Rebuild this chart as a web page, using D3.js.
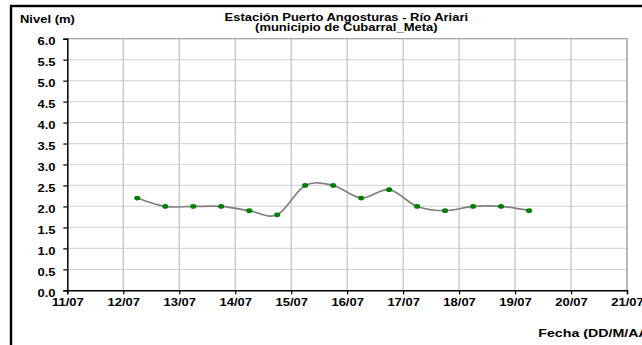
<!DOCTYPE html>
<html>
<head>
<meta charset="utf-8">
<script src="https://cdn.jsdelivr.net/npm/d3@7"></script>
<style>
  html, body { margin: 0; padding: 0; background: #fff; overflow: hidden; }
  svg { display: block; font-family: "Liberation Sans", Arial, sans-serif; }
</style>
</head>
<body>
<svg id="chart" width="642" height="345"></svg>
<script>
// Observation times (every 12 h) and river level readings in metres
const times = [
  "2011-07-12T06:00", "2011-07-12T18:00", "2011-07-13T06:00", "2011-07-13T18:00",
  "2011-07-14T06:00", "2011-07-14T18:00", "2011-07-15T06:00", "2011-07-15T18:00",
  "2011-07-16T06:00", "2011-07-16T18:00", "2011-07-17T06:00", "2011-07-17T18:00",
  "2011-07-18T06:00", "2011-07-18T18:00", "2011-07-19T06:00"
];
const levels = [2.2, 2.0, 2.0, 2.0, 1.9, 1.8, 2.5, 2.5, 2.2, 2.4, 2.0, 1.9, 2.0, 2.0, 1.9];

const xTicks = ["2011-07-11", "2011-07-12", "2011-07-13", "2011-07-14", "2011-07-15",
                "2011-07-16", "2011-07-17", "2011-07-18", "2011-07-19", "2011-07-20", "2011-07-21"];
const yTicks = [0, 0.5, 1, 1.5, 2, 2.5, 3, 3.5, 4, 4.5, 5, 5.5, 6];

const titleLines = ["Estación Puerto Angosturas - Río Ariari", "(municipio de Cubarral_Meta)"];
const yTitle = "Nivel (m)";
const xTitle = "Fecha (DD/M/AA)";

const parse = d3.timeParse("%Y-%m-%dT%H:%M");
const parseDay = d3.timeParse("%Y-%m-%d");
const data = times.map((t, i) => ({ t: parse(t), v: levels[i] }));
const tickDates = xTicks.map(parseDay);

// Text in this chart is set in a wide bold face: stretch glyphs horizontally
const SX = 1.3;
const FS = 10;

const svg = d3.select("#chart");
const plot = { left: 67.3, right: 627, top: 38.7, bottom: 290.3 };

// Outer chart frame
svg.append("rect")
  .attr("x", 11).attr("y", 6).attr("width", 700).attr("height", 400)
  .attr("fill", "none").attr("stroke", "#000").attr("stroke-width", 2.4);

const x = d3.scaleTime()
  .domain([tickDates[0], tickDates[tickDates.length - 1]])
  .range([plot.left, plot.right]);
const y = d3.scaleLinear().domain([0, 6]).range([plot.bottom, plot.top]);

// Horizontal gridlines
svg.append("g").selectAll("line").data(yTicks.filter(d => d > 0)).join("line")
  .attr("x1", plot.left).attr("x2", plot.right)
  .attr("y1", d => y(d)).attr("y2", d => y(d))
  .attr("stroke", "#d9d9d9").attr("stroke-width", 1.2);

// Vertical gridlines
svg.append("g").selectAll("line").data(tickDates.slice(1)).join("line")
  .attr("x1", d => x(d)).attr("x2", d => x(d))
  .attr("y1", plot.top).attr("y2", plot.bottom)
  .attr("stroke", "#c0c0c0").attr("stroke-width", 1.2);

// Plot area border (top/right)
svg.append("path")
  .attr("d", `M${plot.left},${plot.top}H${plot.right}V${plot.bottom}`)
  .attr("fill", "none").attr("stroke", "#a6a6a6").attr("stroke-width", 1.2);

// Y axis
const yAxis = svg.append("g")
  .attr("transform", `translate(${plot.left},0)`)
  .call(d3.axisLeft(y).tickValues(yTicks).tickFormat(d3.format(".1f")).tickSize(4).tickPadding(5));
yAxis.select(".domain").attr("stroke", "#000").attr("stroke-width", 1.5);
yAxis.selectAll(".tick line").attr("stroke", "#000").attr("stroke-width", 1.2);
yAxis.selectAll("text")
  .attr("font-size", FS).attr("font-weight", "bold").attr("fill", "#000")
  .attr("dy", "0.62em")
  .attr("transform", `scale(${SX},1)`);

// X axis
const xAxis = svg.append("g")
  .attr("transform", `translate(0,${plot.bottom})`)
  .call(d3.axisBottom(x).tickValues(tickDates).tickFormat(d3.timeFormat("%d/%m")).tickSize(4).tickPadding(5));
xAxis.select(".domain").attr("stroke", "#000").attr("stroke-width", 1.5);
xAxis.selectAll(".tick line").attr("stroke", "#000").attr("stroke-width", 1.2);
xAxis.selectAll("text")
  .attr("font-size", FS).attr("font-weight", "bold").attr("fill", "#000")
  .attr("transform", `scale(${SX},1)`);

// Smoothed level line
const line = d3.line().x(d => x(d.t)).y(d => y(d.v)).curve(d3.curveCatmullRom.alpha(0));
svg.append("path").datum(data)
  .attr("d", line)
  .attr("fill", "none").attr("stroke", "#808080").attr("stroke-width", 1.7);

// Markers
svg.append("g").selectAll("ellipse").data(data).join("ellipse")
  .attr("cx", d => x(d.t)).attr("cy", d => y(d.v)).attr("rx", 3).attr("ry", 2.4)
  .attr("fill", "#008000");

// Titles
function label(px, py, txt, anchor, sx) {
  svg.append("text")
    .attr("transform", `translate(${px},${py}) scale(${sx || SX},1)`)
    .attr("text-anchor", anchor)
    .attr("font-size", FS).attr("font-weight", "bold").attr("fill", "#000")
    .text(txt);
}
label(346.3, 21.3, titleLines[0], "middle");
label(346.3, 31.3, titleLines[1], "middle");
label(20, 23.2, yTitle, "start");
label(538.3, 336.8, xTitle, "start", 1.42);
</script>
</body>
</html>
